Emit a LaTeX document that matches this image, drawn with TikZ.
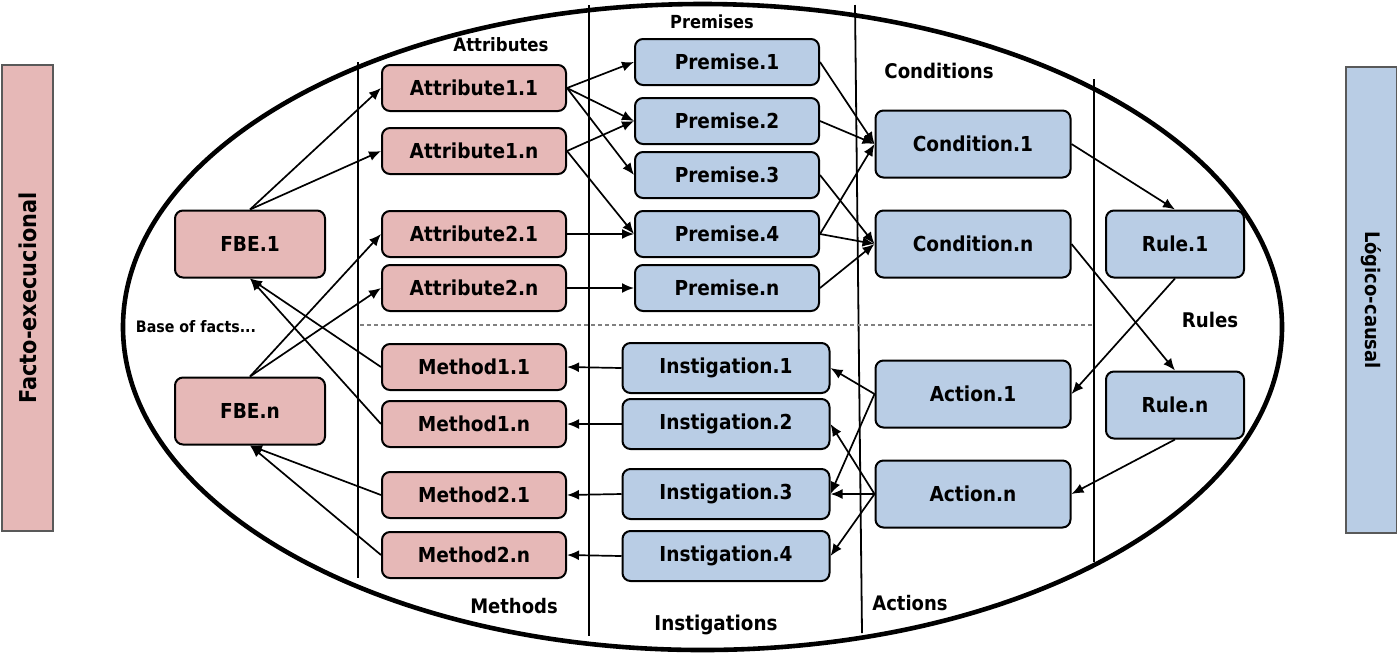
\documentclass[tikz,border=0pt]{standalone}
\usepackage{fontspec}
\setmainfont{DejaVu Sans Condensed}
\usetikzlibrary{arrows.meta}
\definecolor{factpink}{HTML}{E6B8B7}
\definecolor{logicblue}{HTML}{B9CDE5}
\definecolor{sidegray}{HTML}{595959}
\newcommand{\fs}[1]{\bfseries\fontsize{#1}{#1}\selectfont}
\tikzset{
  fact/.style={draw,line width=1pt,rounded corners=4pt,fill=factpink,inner sep=0pt,
    font=\fs{10.3},minimum width=92pt,minimum height=23pt},
  logic/.style={fact,fill=logicblue},
  tallbox/.style={minimum height=33.5pt},
  side/.style={draw=sidegray,line width=0.6pt,inner sep=0pt,rotate=#1,
    minimum width=233pt,minimum height=25.5pt},
  lbl/.style={font=\fs{#1},inner sep=0pt},
  link/.style={->,line width=0.85pt},
  sep/.style={line width=0.9pt}
}
\begin{document}
\begin{tikzpicture}[x=0.5pt,y=-0.5pt,>={Latex[length=6pt,width=5pt]}]
  \useasboundingbox (0,0) rectangle (1397,655);
  \draw[line width=2.3pt] (702.5,327) ellipse [x radius=289.75pt,y radius=161.5pt];
  \draw[sep] (358,62) -- (358,578);
  \draw[sep] (589,5) -- (589,636);
  \draw[sep] (855,5) -- (862,633);
  \draw[sep] (1094,79) -- (1094,562);
  \draw[gray,line width=0.6pt,dash pattern=on 2pt off 1.5pt] (360,325) -- (1094,325);

  \node[side=90,fill=factpink,font=\fs{11.6}] (fe) at (27.5,298) {Facto-execucional};
  \node[side=-90,fill=logicblue,font=\fs{10}] (lc) at (1371.5,300) {Lógico-causal};

  \node[fact,tallbox,minimum width=75pt] (fbe1) at (250,244) {FBE.1};
  \node[fact,tallbox,minimum width=75pt] (fben) at (250,411) {FBE.n};

  \node[fact] (att11) at (474,88) {Attribute1.1};
  \node[fact] (att1n) at (474,151) {Attribute1.n};
  \node[fact] (att21) at (474,234) {Attribute2.1};
  \node[fact] (att2n) at (474,288) {Attribute2.n};
  \node[fact] (met11) at (474,367) {Method1.1};
  \node[fact] (met1n) at (474,424) {Method1.n};
  \node[fact] (met21) at (474,495) {Method2.1};
  \node[fact] (met2n) at (474,555) {Method2.n};

  \node[logic] (pre1) at (727,62) {Premise.1};
  \node[logic] (pre2) at (727,121) {Premise.2};
  \node[logic] (pre3) at (727,175) {Premise.3};
  \node[logic] (pre4) at (727,234) {Premise.4};
  \node[logic] (pren) at (727,288) {Premise.n};
  \node[logic,minimum width=103.5pt,minimum height=25pt] (ins1) at (726,368) {Instigation.1};
  \node[logic,minimum width=103.5pt,minimum height=25pt] (ins2) at (726,424) {Instigation.2};
  \node[logic,minimum width=103.5pt,minimum height=25pt] (ins3) at (726,494) {Instigation.3};
  \node[logic,minimum width=103.5pt,minimum height=25pt] (ins4) at (726,556) {Instigation.4};

  \node[logic,tallbox,minimum width=97.5pt] (cond1) at (973,144) {Condition.1};
  \node[logic,tallbox,minimum width=97.5pt] (condn) at (973,244) {Condition.n};
  \node[logic,tallbox,minimum width=97.5pt] (act1) at (973,394) {Action.1};
  \node[logic,tallbox,minimum width=97.5pt] (actn) at (973,494) {Action.n};
  \node[logic,tallbox,minimum width=69pt] (rule1) at (1175,244) {Rule.1};
  \node[logic,tallbox,minimum width=69pt] (rulen) at (1175,405) {Rule.n};

  \node[lbl=9.2] (attl) at (501,45) {Attributes};
  \node[lbl=9] (prel) at (712,22) {Premises};
  \node[lbl=10.1] (condl) at (939,71) {Conditions};
  \node[lbl=10.1] (rulel) at (1210,320) {Rules};
  \node[lbl=10] (actl) at (910,603) {Actions};
  \node[lbl=10.2] (insl) at (716,625) {Instigations};
  \node[lbl=10] (metl) at (514,606) {Methods};
  \node[lbl=7.9] (basel) at (196,327) {Base of facts...};

  \draw[link] (fbe1.north) -- (att11.west);
  \draw[link] (fbe1.north) -- (att1n.west);
  \draw[link] (fben.north) -- (att21.west);
  \draw[link] (fben.north) -- (att2n.west);
  \draw[link] (met11.west) -- (fbe1.south);
  \draw[link] (met1n.west) -- (fbe1.south);
  \draw[link] (met21.west) -- (fben.south);
  \draw[link] (met2n.west) -- (fben.south);

  \draw[link] (att11.east) -- (pre1.west);
  \draw[link] (att11.east) -- (pre2.west);
  \draw[link] (att11.east) -- (pre3.west);
  \draw[link] (att1n.east) -- (pre2.west);
  \draw[link] (att1n.east) -- (pre4.west);
  \draw[link] (att21.east) -- (pre4.west);
  \draw[link] (att2n.east) -- (pren.west);

  \draw[link] (pre1.east) -- (cond1.west);
  \draw[link] (pre2.east) -- (cond1.west);
  \draw[link] (pre4.east) -- (cond1.west);
  \draw[link] (pre3.east) -- (condn.west);
  \draw[link] (pre4.east) -- (condn.west);
  \draw[link] (pren.east) -- (condn.west);

  \draw[link] (cond1.east) -- (rule1.north);
  \draw[link] (condn.east) -- (rulen.north);
  \draw[link] (rule1.south) -- (act1.east);
  \draw[link] (rulen.south) -- (actn.east);

  \draw[link] (act1.west) -- (ins1.east);
  \draw[link] (act1.west) -- (ins3.east);
  \draw[link] (actn.west) -- (ins2.east);
  \draw[link] (actn.west) -- (ins3.east);
  \draw[link] (actn.west) -- (ins4.east);

  \draw[link] (ins1.west) -- (met11.east);
  \draw[link] (ins2.west) -- (met1n.east);
  \draw[link] (ins3.west) -- (met21.east);
  \draw[link] (ins4.west) -- (met2n.east);
\end{tikzpicture}
\end{document}
